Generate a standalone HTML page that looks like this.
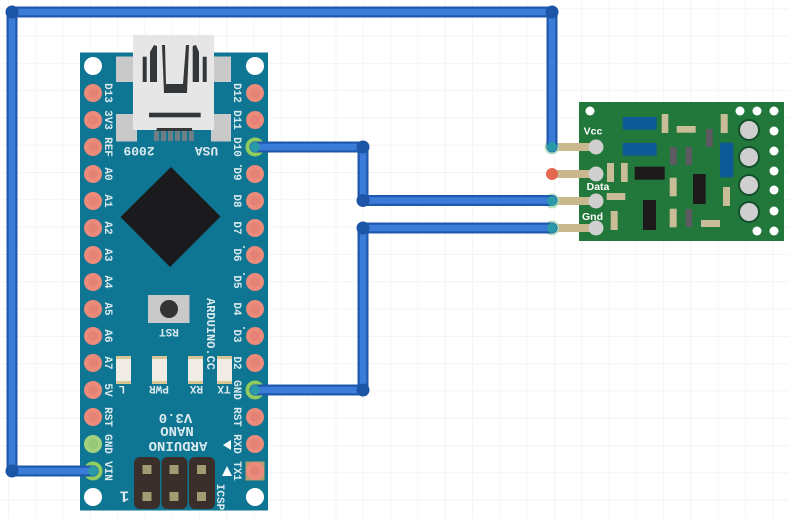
<!DOCTYPE html>
<html><head><meta charset="utf-8">
<style>
html,body{margin:0;padding:0;background:#fff}
svg{display:block;filter:blur(.35px)}
text{font-family:"Liberation Mono",monospace;font-weight:bold;fill:#dbeaee;font-size:11px;text-anchor:middle}
.s{font-family:"Liberation Sans",sans-serif;fill:#fff;font-size:10.5px}
</style></head><body>
<svg width="789" height="519" viewBox="0 0 789 519" xmlns="http://www.w3.org/2000/svg">
<defs>
<pattern id="g" x="8" y="8.3" width="27.3" height="27.3" patternUnits="userSpaceOnUse">
<path d="M0 0H27.3M0 0V27.3" fill="none" stroke="#f0f0f0" stroke-width="1.4"/>
</pattern>
<g id="p"><circle r="9" fill="#ec8a7c"/><circle r="5" fill="#e58276"/></g>
<g id="gp"><circle r="9.5" fill="#8fcb5e"/><circle r="5.5" fill="#127391"/></g>
</defs>
<rect width="789" height="519" fill="#fff"/>
<rect width="789" height="519" fill="url(#g)"/>

<!-- Arduino board -->
<rect x="80" y="52.5" width="188" height="458" fill="#0e7592"/>
<g fill="#fff">
<circle cx="93" cy="66" r="9"/><circle cx="255" cy="66" r="9"/>
<circle cx="93" cy="497" r="9"/><circle cx="255" cy="497" r="9"/>
</g>
<!-- USB tabs -->
<g fill="#c9c9c9">
<rect x="116" y="56.5" width="20" height="25.5"/><rect x="211" y="56.5" width="20" height="25.5"/>
<rect x="116" y="114" width="21" height="27.5"/><rect x="211" y="114" width="20" height="27.5"/>
</g>
<rect x="133" y="35" width="81" height="95" fill="#e6e6e6"/>
<g fill="#33373a">
<rect x="142.7" y="56.7" width="4" height="25.3"/>
<path d="M150 52 L154 45 L157 46 V82 H150Z"/>
<path d="M162 45 H165 L166 84 H183 L186 45 H189 L187 93 H164Z"/>
<path d="M192.7 46 L196 45 L199 52 V82 H192.7Z"/>
<rect x="202.7" y="56.7" width="4" height="25.3"/>
<rect x="149" y="112.7" width="51.7" height="4.6"/>
<rect x="156.7" y="128" width="35.3" height="3"/>
</g>
<g fill="#6f7f86">
<rect x="154" y="131" width="5" height="10"/><rect x="161" y="131" width="5" height="10"/><rect x="168" y="131" width="5" height="10"/><rect x="175" y="131" width="5" height="10"/><rect x="182" y="131" width="5" height="10"/><rect x="189" y="131" width="5" height="10"/>
</g>
<!-- Chip -->
<polygon points="171,167 220.5,216.5 170,267 120.5,217" fill="#1b1b1d"/>
<!-- Reset -->
<rect x="148" y="295" width="41.5" height="28" fill="#c9c9c9"/>
<circle cx="169" cy="309" r="9" fill="#333"/>
<!-- LEDs -->
<g fill="#d8c795">
<rect x="116" y="356" width="15" height="28"/><rect x="152" y="356" width="15" height="28"/><rect x="188" y="356" width="15" height="28"/><rect x="217" y="356" width="15" height="28"/>
</g>
<g fill="#f2ece6">
<rect x="116" y="359" width="15" height="22"/><rect x="152" y="359" width="15" height="22"/><rect x="188" y="359" width="15" height="22"/><rect x="217" y="359" width="15" height="22"/>
</g>
<!-- ICSP -->
<g fill="#3b2f2b">
<rect x="134" y="457" width="26" height="52" rx="6"/><rect x="161.5" y="457" width="26" height="52" rx="6"/><rect x="189" y="457" width="26" height="52" rx="6"/>
</g>
<g fill="#a39b72">
<rect x="142.5" y="465" width="9" height="9"/><rect x="169.5" y="465" width="9" height="9"/><rect x="197" y="465" width="9" height="9"/>
<rect x="142.5" y="492" width="9" height="9"/><rect x="169.5" y="492" width="9" height="9"/><rect x="197" y="492" width="9" height="9"/>
</g>
<polygon points="223,445 231,440 231,450" fill="#fff"/>
<polygon points="227,466 232,476 222,476" fill="#fff"/>
<rect x="245.5" y="461.5" width="19" height="19" fill="#b89c6e"/>

<!-- Pins -->
<use href="#p" x="93" y="93"/><use href="#p" x="93" y="120"/><use href="#p" x="93" y="147"/><use href="#p" x="93" y="174"/><use href="#p" x="93" y="201"/><use href="#p" x="93" y="228"/><use href="#p" x="93" y="255"/><use href="#p" x="93" y="282"/><use href="#p" x="93" y="309"/><use href="#p" x="93" y="336"/><use href="#p" x="93" y="363"/><use href="#p" x="93" y="390"/><use href="#p" x="93" y="417"/>
<circle cx="93" cy="444" r="9" fill="#a3d27e"/><circle cx="93" cy="444" r="5" fill="#95c876"/>
<use href="#gp" x="93" y="471"/>
<use href="#p" x="255" y="93"/><use href="#p" x="255" y="120"/><use href="#gp" x="255" y="147"/><use href="#p" x="255" y="174"/><use href="#p" x="255" y="201"/><use href="#p" x="255" y="228"/><use href="#p" x="255" y="255"/><use href="#p" x="255" y="282"/><use href="#p" x="255" y="309"/><use href="#p" x="255" y="336"/><use href="#p" x="255" y="363"/><use href="#gp" x="255" y="390"/><use href="#p" x="255" y="417"/><use href="#p" x="255" y="444"/><use href="#p" x="255" y="471"/>

<!-- Labels -->
<g>
<text transform="translate(105,93) rotate(90)">D13</text>
<text transform="translate(105,120) rotate(90)">3V3</text>
<text transform="translate(105,147) rotate(90)">REF</text>
<text transform="translate(105,174) rotate(90)">A0</text>
<text transform="translate(105,201) rotate(90)">A1</text>
<text transform="translate(105,228) rotate(90)">A2</text>
<text transform="translate(105,255) rotate(90)">A3</text>
<text transform="translate(105,282) rotate(90)">A4</text>
<text transform="translate(105,309) rotate(90)">A5</text>
<text transform="translate(105,336) rotate(90)">A6</text>
<text transform="translate(105,363) rotate(90)">A7</text>
<text transform="translate(105,390) rotate(90)">5V</text>
<text transform="translate(105,417) rotate(90)">RST</text>
<text transform="translate(105,444) rotate(90)">GND</text>
<text transform="translate(105,471) rotate(90)">VIN</text>
<text transform="translate(234,93) rotate(90)">D12</text>
<text transform="translate(234,120) rotate(90)">D11</text>
<text transform="translate(234,147) rotate(90)">D10</text>
<text transform="translate(234,174) rotate(90)">D9</text>
<text transform="translate(234,201) rotate(90)">D8</text>
<text transform="translate(234,228) rotate(90)">D7</text>
<text transform="translate(234,255) rotate(90)">D6</text>
<text transform="translate(234,282) rotate(90)">D5</text>
<text transform="translate(234,309) rotate(90)">D4</text>
<text transform="translate(234,336) rotate(90)">D3</text>
<text transform="translate(234,363) rotate(90)">D2</text>
<text transform="translate(234,390) rotate(90)">GND</text>
<text transform="translate(234,417) rotate(90)">RST</text>
<text transform="translate(234,444) rotate(90)">RXD</text>
<text transform="translate(234,471) rotate(90)">TX1</text>
<text transform="translate(207,334) rotate(90)" style="font-size:12px">ARDUINO.CC</text>
<text transform="translate(217,497) rotate(90)">ICSP</text>
<text transform="translate(139,147) rotate(180)" style="font-size:13px">2009</text>
<text transform="translate(206.500,147) rotate(180)" style="font-size:13px">USA</text>
<text transform="translate(169,329) rotate(180)">RST</text>
<text transform="translate(122,386) rotate(180)">L</text>
<text transform="translate(159,386) rotate(180)">PWR</text>
<text transform="translate(196.500,386) rotate(180)">RX</text>
<text transform="translate(224,386) rotate(180)">TX</text>
<text transform="translate(175.500,414) rotate(180)" style="font-size:14px">V3.0</text>
<text transform="translate(177,427) rotate(180)" style="font-size:14px">NANO</text>
<text transform="translate(178,442) rotate(180)" style="font-size:14px">ARDUINO</text>
<text transform="translate(124.500,491.500) rotate(180)" style="font-size:16px">1</text>
</g>
<g fill="#dbeaee">
<circle cx="241" cy="166" r="1"/><circle cx="244" cy="247" r="1"/><circle cx="244" cy="274" r="1"/><circle cx="244" cy="328" r="1"/>
</g>

<!-- Sensor board -->
<rect x="579" y="102" width="205" height="139" fill="#21783a"/>
<g fill="#fff">
<circle cx="590" cy="111" r="4.5"/><circle cx="740" cy="111" r="4.5"/><circle cx="757" cy="111" r="4.5"/><circle cx="774" cy="111" r="4.5"/><circle cx="774" cy="131" r="4.5"/><circle cx="774" cy="151" r="4.5"/><circle cx="774" cy="171" r="4.5"/><circle cx="774" cy="190" r="4.5"/><circle cx="774" cy="211" r="4.5"/><circle cx="774" cy="231" r="4.5"/><circle cx="757" cy="231" r="4.5"/>
</g>
<g fill="#0c5a96">
<rect x="622.7" y="117" width="34" height="12.7"/><rect x="622.7" y="143" width="34" height="12.7"/><rect x="720" y="142.7" width="13.3" height="34.6"/>
</g>
<g fill="#c9bd97">
<rect x="661.7" y="114" width="6.6" height="19"/><rect x="676.7" y="126" width="19" height="6.7"/><rect x="720.7" y="114" width="7" height="19"/>
<rect x="607" y="163" width="7" height="19"/><rect x="621" y="163" width="6.7" height="19"/><rect x="606.7" y="193" width="18.6" height="7"/>
<rect x="610.7" y="211" width="7" height="19"/><rect x="669.7" y="177.7" width="7" height="18.6"/><rect x="669.7" y="208.7" width="7" height="18.6"/>
<rect x="723" y="187" width="7" height="19"/><rect x="701" y="220" width="19" height="7"/>
</g>
<g fill="#5d5a62">
<rect x="706" y="129" width="6.7" height="18"/><rect x="670" y="147" width="6.7" height="18"/><rect x="685.7" y="147" width="6.3" height="18"/><rect x="685.7" y="209" width="6.3" height="18"/>
</g>
<g fill="#1d1a1c">
<rect x="634.7" y="166.7" width="30" height="13"/><rect x="693" y="174" width="12.7" height="30"/><rect x="643" y="200" width="13" height="30"/>
</g>
<g fill="#cfcfd0" stroke="#14502c" stroke-width="2">
<circle cx="749" cy="130" r="10"/><circle cx="749" cy="157" r="10"/><circle cx="749" cy="185" r="10"/><circle cx="749" cy="212" r="10"/>
</g>

<!-- Sensor pins -->
<g stroke="#c9b88e" stroke-width="8">
<path d="M552 147H596M552 174H596M552 201H596M552 228H596"/>
</g>
<g fill="#cfcfd0">
<circle cx="596" cy="147" r="7.5"/><circle cx="596" cy="174" r="7.5"/><circle cx="596" cy="201" r="7.5"/><circle cx="596" cy="228" r="7.5"/>
</g>
<circle cx="552" cy="174" r="6" fill="#e4684f"/>
<g fill="#a6dcb4" opacity=".8">
<circle cx="552" cy="147" r="7.500"/><circle cx="552" cy="201" r="7.500"/><circle cx="552" cy="228" r="7.500"/>
</g>

<!-- Wires -->
<g fill="none" stroke-linejoin="round" stroke-linecap="round">
<g stroke="#1f59ad" stroke-width="11">
<path d="M93 471H12V12H552V147"/>
<path d="M255 147H363V200.500H552"/>
<path d="M255 390H363V228H552"/>
</g>
<g stroke="#3a7cd8" stroke-width="6.500">
<path d="M93 471H12V12H552V147"/>
<path d="M255 147H363V200.500H552"/>
<path d="M255 390H363V228H552"/>
</g>
</g>
<g fill="#1c55a6">
<circle cx="12" cy="12" r="6.500"/><circle cx="552" cy="12" r="6.500"/><circle cx="12" cy="471" r="6.500"/>
<circle cx="363" cy="147" r="6.500"/><circle cx="363" cy="200.500" r="6.500"/><circle cx="363" cy="228" r="6.500"/><circle cx="363" cy="390" r="6.500"/>
</g>
<g fill="#2a9aa8">
<circle cx="93" cy="471" r="5"/><circle cx="255" cy="147" r="5"/><circle cx="255" cy="390" r="5"/>
<circle cx="552" cy="147" r="5"/><circle cx="552" cy="201" r="5"/><circle cx="552" cy="228" r="5"/>
</g>

<!-- Sensor labels -->
<text class="s" x="593" y="134.500">Vcc</text>
<text class="s" x="598" y="190">Data</text>
<text class="s" x="592.500" y="220">Gnd</text>
</svg>
</body></html>
